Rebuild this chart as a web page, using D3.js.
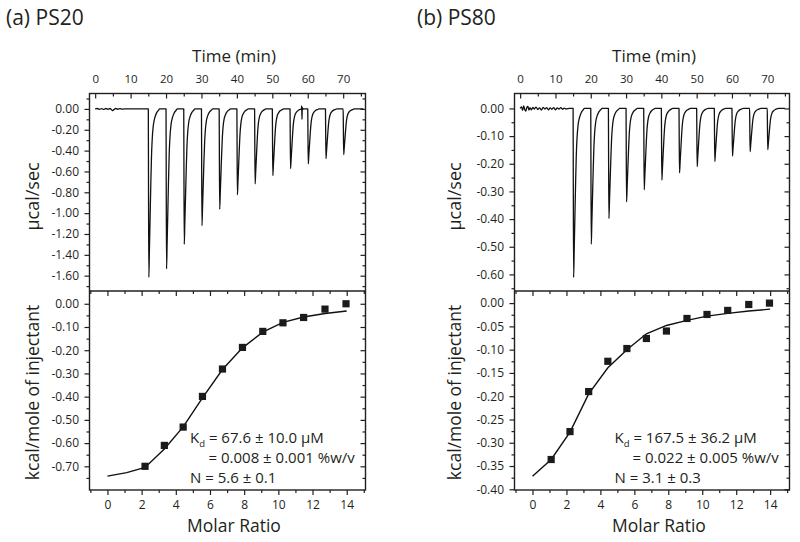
<!DOCTYPE html>
<html><head><meta charset="utf-8">
<script src="https://cdn.jsdelivr.net/npm/d3@7"></script>
<style>
body{margin:0;background:#fff}
text{font-family:"Open Sans",sans-serif;fill:#231f20}
</style>
</head><body>
<svg id="c" width="800" height="542"></svg>
<script>
// ================= DATA =================
const panelTitles = ["(a) PS20", "(b) PS80"];

// injection times (min) of the raw thermograms
const injTimes = [15, 20, 25, 30, 35, 40, 45, 50, 55, 60, 65, 70];
// depth of each injection peak (µcal/sec)
const peaksPS20 = [-1.615, -1.535, -1.30, -1.12, -0.963, -0.825, -0.72, -0.64, -0.573, -0.528, -0.477, -0.438];
const peaksPS80 = [-0.611, -0.491, -0.398, -0.338, -0.294, -0.259, -0.233, -0.210, -0.192, -0.172, -0.156, -0.149];
// shape of one injection peak (offset in min, fraction of depth)
const peakOffsets = [0, 0.05, 0.15, 0.3, 0.5, 0.7, 0.9, 1.1, 1.4, 1.8, 2.3, 2.8, 3.2];
const peakShape   = [0, 0.4, 1.0, 0.85, 0.65, 0.45, 0.28, 0.18, 0.1, 0.055, 0.025, 0.01, 0];
// baseline segments (time, µcal/sec)
const baselinePS20 = [[0,0],[0.6,0.004],[1.2,-0.004],[1.8,0.003],[2.4,-0.005],[3.0,0.004],[3.6,-0.003],[4.2,0.004],
  [4.7,-0.01],[5.0,-0.016],[5.3,-0.006],[5.8,0.004],[6.4,-0.003],[7.0,0.002],[7.6,-0.002],[8.2,0],[14.9,0],
  [58.3,0.03],[58.38,-0.1],[58.46,0.015],[58.6,-0.005],[58.75,0],[73.5,0],[75.7,0]];
const baselinePS80 = [[0,0],[0.4,0.006],[0.7,-0.007],[1.0,0.009],[1.3,-0.004],[1.6,-0.01],[1.9,0.004],[2.2,0.007],
  [2.5,-0.006],[2.8,0.003],[3.2,-0.005],[3.6,0.004],[4.0,-0.002],[4.5,0.005],[5.0,-0.004],[5.5,0.002],[6.0,-0.006],
  [6.5,0.004],[7.0,-0.002],[7.5,0.003],[8.0,-0.005],[8.5,0.002],[9.0,-0.003],[9.5,0.003],[10.0,-0.005],[10.5,0.002],
  [11.0,-0.002],[11.5,0.003],[12.0,-0.003],[12.5,0.001],[13.0,-0.002],[14.0,0],[14.9,0],[73.5,0],[75.0,0]];

// integrated heats (kcal/mole of injectant) vs molar ratio
const ratioPS20 = [2.2, 3.33, 4.43, 5.56, 6.73, 7.9, 9.09, 10.27, 11.48, 12.73, 13.96];
const heatPS20  = [-0.70, -0.61, -0.531, -0.399, -0.281, -0.188, -0.119, -0.082, -0.059, -0.023, 0.0];
const fitRatioPS20 = [0, 1.13, 2.2, 3.33, 4.43, 5.56, 6.73, 7.9, 9.09, 10.27, 11.48, 12.73, 14.0];
const fitPS20      = [-0.742, -0.727, -0.705, -0.625, -0.53, -0.405, -0.283, -0.19, -0.122, -0.08, -0.057, -0.042, -0.031];

const ratioPS80 = [1.1, 2.21, 3.31, 4.44, 5.56, 6.71, 7.89, 9.1, 10.28, 11.5, 12.74, 13.96];
const heatPS80  = [-0.336, -0.276, -0.190, -0.125, -0.0976, -0.076, -0.060, -0.033, -0.0244, -0.0157, -0.003, 0.0];
const fitRatioPS80 = [0, 1.1, 2.21, 3.31, 4.44, 5.56, 6.71, 7.89, 9.1, 10.28, 11.5, 12.74, 14.0];
const fitPS80      = [-0.372, -0.336, -0.277, -0.195, -0.139, -0.100, -0.066, -0.048, -0.037, -0.028, -0.022, -0.017, -0.013];

// fitted-parameter annotations
const annPS20 = ["67.6 ± 10.0 μM", "= 0.008 ± 0.001 %w/v", "N = 5.6 ± 0.1"];
const annPS80 = ["167.5 ± 36.2 μM", "= 0.022 ± 0.005 %w/v", "N = 3.1 ± 0.3"];

// ticks
const timeTicks = [0, 10, 20, 30, 40, 50, 60, 70];
const timeMinor = [5, 15, 25, 35, 45, 55, 65, 75];
const molarTicks = [0, 2, 4, 6, 8, 10, 12, 14];
const molarMinor = [-1, 1, 3, 5, 7, 9, 11, 13, 15];
const rawTicksPS20 = [0, -0.2, -0.4, -0.6, -0.8, -1.0, -1.2, -1.4, -1.6];
const rawMinorPS20 = [0.1, -0.1, -0.3, -0.5, -0.7, -0.9, -1.1, -1.3, -1.5, -1.7];
const heatTicksPS20 = [0, -0.1, -0.2, -0.3, -0.4, -0.5, -0.6, -0.7];
const heatMinorPS20 = [-0.05, -0.15, -0.25, -0.35, -0.45, -0.55, -0.65, -0.75];
const rawTicksPS80 = [0, -0.1, -0.2, -0.3, -0.4, -0.5, -0.6];
const rawMinorPS80 = [-0.05, -0.15, -0.25, -0.35, -0.45, -0.55, -0.65];
const heatTicksPS80 = [0, -0.05, -0.1, -0.15, -0.2, -0.25, -0.3, -0.35, -0.4];
const heatMinorPS80 = [-0.025, -0.075, -0.125, -0.175, -0.225, -0.275, -0.325, -0.375];

// ================= DRAWING =================
const svg = d3.select("#c");
svg.append("rect").attr("width", 800).attr("height", 542).attr("fill", "#fff");
const fmt2 = d3.formatLocale({decimal: ".", thousands: ",", grouping: [3], currency: ["", ""], minus: "-"}).format(".2f");
const fmtI = d3.format("d");
const INK = "#231f20";
const Y_TOP = 93.5, Y_MID = 291, Y_BOT = 490;

const panels = [
  {title: panelTitles[0], titleX: 6, x0: 89.5, x1: 365.5, timeLabX: 234, molLabX: 234, yLabX: 38.5,
   peaks: peaksPS20, baseline: baselinePS20, rawDom: [-1.747, 0.148], rawTicks: rawTicksPS20, rawMinor: rawMinorPS20,
   molDom: [-1.05, 15.1], heatDom: [-0.802, 0.055], heatTicks: heatTicksPS20, heatMinor: heatMinorPS20,
   ratio: ratioPS20, heat: heatPS20, fitRatio: fitRatioPS20, fit: fitPS20, ann: annPS20, annX: 190, ann2X: 208.5},
  {title: panelTitles[1], titleX: 417, x0: 514.5, x1: 789.5, timeLabX: 654, molLabX: 659, yLabX: 461,
   peaks: peaksPS80, baseline: baselinePS80, rawDom: [-0.66, 0.054], rawTicks: rawTicksPS80, rawMinor: rawMinorPS80,
   molDom: [-1.06, 15.14], heatDom: [-0.4015, 0.026], heatTicks: heatTicksPS80, heatMinor: heatMinorPS80,
   ratio: ratioPS80, heat: heatPS80, fitRatio: fitRatioPS80, fit: fitPS80, ann: annPS80, annX: 614.5, ann2X: 632.5}
];

function styleAxis(g, fs) {
  g.select(".domain").remove();
  g.selectAll(".tick line").attr("stroke", INK).attr("stroke-width", 1.2);
  g.selectAll(".tick text").attr("font-family", "'Open Sans', sans-serif").attr("font-size", fs).attr("fill", INK);
  g.attr("font-family", null).attr("font-size", null);
}

panels.forEach((p, pi) => {
  const g = svg.append("g");
  const t = d3.scaleLinear().domain([-1.6, 76.3]).range([p.x0, p.x1]);
  const yr = d3.scaleLinear().domain(p.rawDom).range([Y_MID, Y_TOP]);
  const m = d3.scaleLinear().domain(p.molDom).range([p.x0, p.x1]);
  const yh = d3.scaleLinear().domain(p.heatDom).range([Y_BOT, Y_MID]);

  // panel title
  g.append("text").attr("x", p.titleX).attr("y", 25).attr("font-size", 21).text(p.title);

  // ---- axes (top panel) ----
  g.append("g").attr("transform", `translate(0,${Y_TOP})`)
    .call(d3.axisTop(t).tickValues(timeTicks).tickSize(-5).tickPadding(10.5).tickFormat(fmtI))
    .call(a => styleAxis(a, 11.5));
  g.append("g").attr("transform", `translate(0,${Y_TOP})`)
    .call(d3.axisTop(t).tickValues(timeMinor).tickSize(-3).tickFormat(""))
    .call(a => styleAxis(a, 11));
  g.append("g").attr("transform", `translate(${p.x0},0)`)
    .call(d3.axisLeft(yr).tickValues(p.rawTicks).tickSize(5).tickPadding(5.5).tickFormat(fmt2))
    .call(a => styleAxis(a, 12));
  g.append("g").attr("transform", `translate(${p.x0},0)`)
    .call(d3.axisLeft(yr).tickValues(p.rawMinor).tickSize(3).tickFormat(""))
    .call(a => styleAxis(a, 12));
  g.append("g").attr("transform", `translate(${p.x1},0)`)
    .call(d3.axisRight(yr).tickValues(p.rawTicks).tickSize(-5).tickFormat(""))
    .call(a => styleAxis(a, 12));
  g.append("g").attr("transform", `translate(${p.x1},0)`)
    .call(d3.axisRight(yr).tickValues(p.rawMinor).tickSize(-3).tickFormat(""))
    .call(a => styleAxis(a, 12));

  // ---- axes (bottom panel) ----
  g.append("g").attr("transform", `translate(0,${Y_MID})`)
    .call(d3.axisTop(m).tickValues(molarTicks).tickSize(-5).tickFormat(""))
    .call(a => styleAxis(a, 12));
  g.append("g").attr("transform", `translate(0,${Y_MID})`)
    .call(d3.axisTop(m).tickValues(molarMinor).tickSize(-3).tickFormat(""))
    .call(a => styleAxis(a, 12));
  g.append("g").attr("transform", `translate(0,${Y_BOT})`)
    .call(d3.axisBottom(m).tickValues(molarTicks).tickSize(5).tickPadding(5).tickFormat(fmtI))
    .call(a => styleAxis(a, 12));
  g.append("g").attr("transform", `translate(0,${Y_BOT})`)
    .call(d3.axisBottom(m).tickValues(molarMinor).tickSize(3).tickFormat(""))
    .call(a => styleAxis(a, 12));
  g.append("g").attr("transform", `translate(${p.x0},0)`)
    .call(d3.axisLeft(yh).tickValues(p.heatTicks).tickSize(5).tickPadding(5.5).tickFormat(fmt2))
    .call(a => styleAxis(a, 12));
  g.append("g").attr("transform", `translate(${p.x0},0)`)
    .call(d3.axisLeft(yh).tickValues(p.heatMinor).tickSize(3).tickFormat(""))
    .call(a => styleAxis(a, 12));
  g.append("g").attr("transform", `translate(${p.x1},0)`)
    .call(d3.axisRight(yh).tickValues(p.heatTicks).tickSize(-5).tickFormat(""))
    .call(a => styleAxis(a, 12));
  g.append("g").attr("transform", `translate(${p.x1},0)`)
    .call(d3.axisRight(yh).tickValues(p.heatMinor).tickSize(-3).tickFormat(""))
    .call(a => styleAxis(a, 12));

  // ---- axis titles ----
  g.append("text").attr("x", p.timeLabX).attr("y", 61.5).attr("text-anchor", "middle")
    .attr("font-size", 17).text("Time (min)");
  g.append("text").attr("x", p.molLabX).attr("y", 531.5).attr("text-anchor", "middle")
    .attr("font-size", 17.5).text("Molar Ratio");
  g.append("text").attr("transform", `translate(${p.yLabX},${196.5}) rotate(-90)`).attr("text-anchor", "middle")
    .attr("font-size", 18).text("µcal/sec");
  g.append("text").attr("transform", `translate(${p.yLabX},${392.5}) rotate(-90)`).attr("text-anchor", "middle")
    .attr("font-size", 17.5).text("kcal/mole of injectant");

  // ---- raw thermogram ----
  const pts = p.baseline.map(d => ({t: d[0], v: d[1]}));
  injTimes.forEach((ti, i) => {
    peakOffsets.forEach((off, k) => pts.push({t: ti + off, v: p.peaks[i] * peakShape[k]}));
  });
  pts.sort((a, b) => a.t - b.t);
  const clipId = "clip" + pi;
  svg.append("clipPath").attr("id", clipId).append("rect")
    .attr("x", p.x0).attr("y", Y_TOP).attr("width", p.x1 - p.x0).attr("height", Y_MID - Y_TOP);
  g.append("path").datum(pts).attr("clip-path", `url(#${clipId})`)
    .attr("fill", "none").attr("stroke", "#111").attr("stroke-width", 1.3).attr("stroke-linejoin", "round")
    .attr("d", d3.line().x(d => t(d.t)).y(d => yr(d.v)).curve(d3.curveMonotoneX));

  // ---- fit line ----
  const fitPts = p.fitRatio.map((r, i) => [r, p.fit[i]]);
  g.append("path").datum(fitPts).attr("fill", "none").attr("stroke", "#111").attr("stroke-width", 1.4)
    .attr("d", d3.line().x(d => m(d[0])).y(d => yh(d[1])));

  // ---- integrated heat squares ----
  const s = 7.2;
  g.selectAll("rect.pt").data(p.ratio.map((r, i) => [r, p.heat[i]])).join("rect").attr("class", "pt")
    .attr("x", d => m(d[0]) - s / 2).attr("y", d => yh(d[1]) - s / 2)
    .attr("width", s).attr("height", s).attr("fill", "#1c1a1b");

  // ---- frames ----
  g.append("rect").attr("x", p.x0).attr("y", Y_TOP).attr("width", p.x1 - p.x0).attr("height", Y_BOT - Y_TOP)
    .attr("fill", "none").attr("stroke", INK).attr("stroke-width", 1.4);
  g.append("line").attr("x1", p.x0).attr("x2", p.x1).attr("y1", Y_MID).attr("y2", Y_MID)
    .attr("stroke", INK).attr("stroke-width", 1.4);

  // ---- annotation ----
  const a1 = g.append("text").attr("x", p.annX).attr("y", 442.7).attr("font-size", 15);
  a1.append("tspan").text("K");
  a1.append("tspan").attr("font-size", 9.5).attr("dy", 4).text("d");
  a1.append("tspan").attr("dy", -4).text(" = " + p.ann[0]);
  g.append("text").attr("x", p.ann2X).attr("y", 462.7).attr("font-size", 15).text(p.ann[1]);
  g.append("text").attr("x", p.annX).attr("y", 482.7).attr("font-size", 15).text(p.ann[2]);
});
</script>
</body></html>
